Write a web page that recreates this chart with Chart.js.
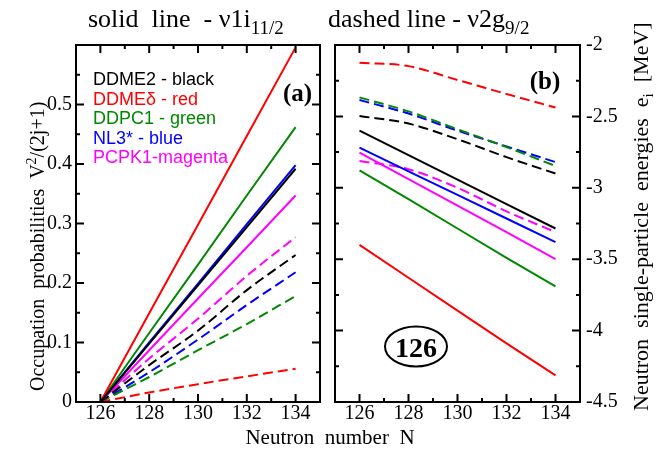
<!DOCTYPE html>
<html><head><meta charset="utf-8">
<script src="https://cdn.jsdelivr.net/npm/chart.js@4.4.0/dist/chart.umd.min.js"></script>
<style>
html,body{margin:0;padding:0;background:#fff;}
#wrap{position:relative;width:657px;height:449px;overflow:hidden;}
canvas{position:absolute;left:0;top:0;}
</style>
</head><body>
<div id="wrap"><canvas id="c1" width="657" height="449"></canvas><canvas id="c2" width="657" height="449"></canvas></div>
<script>
// ---------- data ----------
const neutronN = [126, 128, 130, 132, 134];
const models = ['DDME2', 'DDMEδ', 'DDPC1', 'NL3*', 'PCPK1'];
const legendLabels = ['DDME2 - black', 'DDMEδ - red', 'DDPC1 - green', 'NL3* - blue', 'PCPK1-magenta'];
const modelColors = ['#000000', '#ff0000', '#008800', '#0000ff', '#ff00ff'];

// occupation probabilities, nu 1i11/2 (solid)
const occI_DDME2 = [0, 0.098, 0.196, 0.294, 0.392];
const occI_DDMEd = [0, 0.149, 0.298, 0.447, 0.596];
const occI_DDPC1 = [0, 0.116, 0.231, 0.347, 0.462];
const occI_NL3   = [0, 0.100, 0.199, 0.299, 0.398];
const occI_PCPK1 = [0, 0.087, 0.174, 0.260, 0.347];
// occupation probabilities, nu 2g9/2 (dashed)
const occG_DDME2 = [0, 0.062, 0.120, 0.188, 0.247];
const occG_DDMEd = [0, 0.016, 0.030, 0.043, 0.056];
const occG_DDPC1 = [0, 0.042, 0.087, 0.131, 0.178];
const occG_NL3   = [0, 0.050, 0.105, 0.163, 0.218];
const occG_PCPK1 = [0, 0.073, 0.140, 0.212, 0.277];

// single-particle energies [MeV], nu 1i11/2 (solid)
const eI_DDME2 = [-2.600, -2.771, -2.943, -3.114, -3.285];
const eI_DDMEd = [-3.400, -3.630, -3.860, -4.090, -4.314];
const eI_DDPC1 = [-2.878, -3.080, -3.285, -3.490, -3.690];
const eI_NL3   = [-2.718, -2.885, -3.050, -3.215, -3.380];
const eI_PCPK1 = [-2.754, -2.940, -3.125, -3.310, -3.500];
// single-particle energies [MeV], nu 2g9/2 (dashed)
const eG_DDME2 = [-2.497, -2.550, -2.660, -2.785, -2.900];
const eG_DDMEd = [-2.125, -2.148, -2.245, -2.343, -2.438];
const eG_DDPC1 = [-2.367, -2.465, -2.590, -2.715, -2.847];
const eG_NL3   = [-2.385, -2.480, -2.600, -2.710, -2.820];
const eG_PCPK1 = [-2.812, -2.870, -3.000, -3.165, -3.310];

// tick labels / positions
const xTickValues = [126, 128, 130, 132, 134];
const xMinorValues = [127, 129, 131, 133];
const occTickValues = [0, 0.1, 0.2, 0.3, 0.4, 0.5];
const occMinorValues = [0.05, 0.15, 0.25, 0.35, 0.45, 0.55];
const eTickValues = [-4.5, -4, -3.5, -3, -2.5, -2];
const eMinorValues = [-4.25, -3.75, -3.25, -2.75, -2.25];

const occSolid = [occI_DDME2, occI_DDMEd, occI_DDPC1, occI_NL3, occI_PCPK1];
const occDashed = [occG_DDME2, occG_DDMEd, occG_DDPC1, occG_NL3, occG_PCPK1];
const eSolid = [eI_DDME2, eI_DDMEd, eI_DDPC1, eI_NL3, eI_PCPK1];
const eDashed = [eG_DDME2, eG_DDMEd, eG_DDPC1, eG_NL3, eG_PCPK1];

// ---------- helpers ----------
const SERIF = '"Liberation Serif", "Times New Roman", serif';
const SANS = '"Liberation Sans", Arial, sans-serif';
const DASH = [10, 5];

function makeDatasets(solid, dashed) {
  const ds = [];
  models.forEach((m, i) => {
    ds.push({ label: m + ' 1i11/2', data: neutronN.map((n, k) => ({ x: n, y: solid[i][k] })),
      borderColor: modelColors[i], borderWidth: 2, pointRadius: 0, tension: 0, fill: false });
  });
  models.forEach((m, i) => {
    ds.push({ label: m + ' 2g9/2', data: neutronN.map((n, k) => ({ x: n, y: dashed[i][k] })),
      borderColor: modelColors[i], borderWidth: 2, borderDash: DASH, pointRadius: 0,
      cubicInterpolationMode: 'monotone', fill: false });
  });
  return ds;
}

function drawParts(ctx, x, y, parts) {
  for (const [t, font, dy] of parts) {
    ctx.font = font;
    ctx.fillText(t, x, y + dy);
    x += ctx.measureText(t).width;
  }
  return x;
}

function frameTicks(yMajor, yMinor) {
  return {
    id: 'frameTicks',
    afterDatasetsDraw(chart) {
      const { ctx, chartArea: a, scales } = chart;
      const x = scales.x, y = scales.y;
      ctx.save();
      ctx.strokeStyle = '#000';
      ctx.lineWidth = 2;
      ctx.beginPath();
      const vt = (v, len) => { const p = x.getPixelForValue(v);
        ctx.moveTo(p, a.bottom); ctx.lineTo(p, a.bottom - len);
        ctx.moveTo(p, a.top); ctx.lineTo(p, a.top + len); };
      const ht = (v, len) => { const p = y.getPixelForValue(v);
        ctx.moveTo(a.left, p); ctx.lineTo(a.left + len, p);
        ctx.moveTo(a.right, p); ctx.lineTo(a.right - len, p); };
      xTickValues.forEach(v => vt(v, 8));
      xMinorValues.forEach(v => vt(v, 4));
      yMajor.forEach(v => ht(v, 8));
      yMinor.forEach(v => ht(v, 4));
      ctx.stroke();
      ctx.strokeRect(a.left, a.top, a.right - a.left, a.bottom - a.top);
      ctx.restore();
    }
  };
}

const xScale = {
  type: 'linear', min: 125, max: 135,
  grid: { display: false, drawTicks: false }, border: { display: false },
  afterBuildTicks: s => { s.ticks = xTickValues.map(v => ({ value: v })); },
  ticks: { autoSkip: false, maxRotation: 0, padding: 0, color: '#000',
    font: { family: SERIF, size: 20 }, callback: v => String(v) },
  afterFit: s => { s.height = 47; }
};

// ---------- left chart ----------
const textLeft = {
  id: 'textLeft',
  afterDraw(chart) {
    const ctx = chart.ctx;
    ctx.save();
    ctx.fillStyle = '#000';
    ctx.textBaseline = 'alphabetic';
    ctx.textAlign = 'left';
    drawParts(ctx, 88, 27, [['solid  line  - ν1i', '26px ' + SERIF, 0], ['11/2', '19px ' + SERIF, 7]]);
    drawParts(ctx, 328, 27, [['dashed line - ν2g', '26px ' + SERIF, 0], ['9/2', '19px ' + SERIF, 7]]);
    // x axis title
    ctx.font = '21px ' + SERIF;
    ctx.textAlign = 'center';
    ctx.fillText('Neutron  number  N', 330, 444);
    ctx.textAlign = 'left';
    // left y title
    ctx.save();
    ctx.translate(44, 391);
    ctx.rotate(-Math.PI / 2);
    drawParts(ctx, 0, 0, [['Occupation  probabilities  V', '20px ' + SERIF, 0], ['2', '14px ' + SERIF, -8], ['/(2j+1)', '20px ' + SERIF, 0]]);
    ctx.restore();
    // legend
    ctx.font = '18px ' + SANS;
    legendLabels.forEach((t, i) => { ctx.fillStyle = modelColors[i]; ctx.fillText(t, 93, 85 + i * 19.6); });
    // panel label
    ctx.fillStyle = '#000';
    ctx.font = 'bold 25px ' + SERIF;
    ctx.textAlign = 'center';
    ctx.fillText('(a)', 297.5, 101);
    ctx.restore();
  }
};

new Chart(document.getElementById('c1'), {
  type: 'line',
  data: { datasets: makeDatasets(occSolid, occDashed) },
  options: {
    responsive: false, animation: false, devicePixelRatio: 1,
    layout: { padding: { left: 0, top: 45, right: 337, bottom: 0 } },
    plugins: { legend: { display: false }, tooltip: { enabled: false }, title: { display: false } },
    scales: {
      x: xScale,
      y: { type: 'linear', min: 0, max: 0.6,
        grid: { display: false, drawTicks: false }, border: { display: false },
        afterBuildTicks: s => { s.ticks = occTickValues.map(v => ({ value: v })); },
        ticks: { autoSkip: false, padding: 4, color: '#000', font: { family: SERIF, size: 20 }, callback: v => String(v) },
        afterFit: s => { s.width = 76; } }
    }
  },
  plugins: [frameTicks(occTickValues, occMinorValues), textLeft]
});

// ---------- right chart ----------
const textRight = {
  id: 'textRight',
  afterDraw(chart) {
    const ctx = chart.ctx;
    ctx.save();
    ctx.fillStyle = '#000';
    ctx.textBaseline = 'alphabetic';
    ctx.textAlign = 'left';
    // right y title
    ctx.save();
    ctx.translate(648, 411);
    ctx.rotate(-Math.PI / 2);
    drawParts(ctx, 0, 0, [['Neutron  single-particle  energies  e', '22px ' + SERIF, 0], ['i', '15px ' + SERIF, 5], ['  [MeV]', '22px ' + SERIF, 0]]);
    ctx.restore();
    // panel label
    ctx.font = 'bold 25px ' + SERIF;
    ctx.textAlign = 'center';
    ctx.fillText('(b)', 545, 89);
    // 126 label in ellipse
    ctx.font = 'bold 28px ' + SERIF;
    ctx.fillText('126', 416, 357);
    ctx.lineWidth = 2;
    ctx.strokeStyle = '#000';
    ctx.beginPath();
    ctx.ellipse(416, 346.5, 31, 20, 0, 0, Math.PI * 2);
    ctx.stroke();
    ctx.restore();
  }
};

new Chart(document.getElementById('c2'), {
  type: 'line',
  data: { datasets: makeDatasets(eSolid, eDashed) },
  options: {
    responsive: false, animation: false, devicePixelRatio: 1,
    layout: { padding: { left: 335, top: 45, right: 0, bottom: 0 } },
    plugins: { legend: { display: false }, tooltip: { enabled: false }, title: { display: false } },
    scales: {
      x: xScale,
      y: { type: 'linear', position: 'right', min: -4.5, max: -2,
        grid: { display: false, drawTicks: false }, border: { display: false },
        afterBuildTicks: s => { s.ticks = eTickValues.map(v => ({ value: v })); },
        ticks: { autoSkip: false, padding: 6, color: '#000', font: { family: SERIF, size: 20 }, callback: v => String(v) },
        afterFit: s => { s.width = 77; } }
    }
  },
  plugins: [frameTicks(eTickValues, eMinorValues), textRight]
});
</script>
</body></html>
